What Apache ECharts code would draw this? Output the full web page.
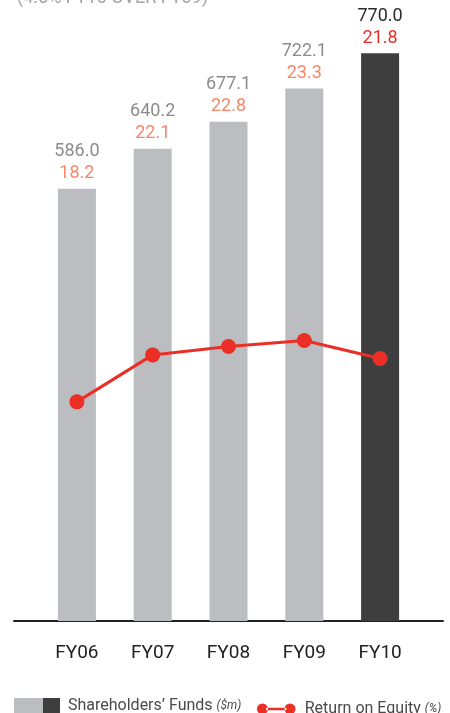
<!DOCTYPE html>
<html>
<head>
<meta charset="utf-8">
<script src="https://cdn.jsdelivr.net/npm/echarts@6/dist/echarts.min.js"></script>
<style>
  html, body { margin: 0; padding: 0; background: #fff; }
  #bar { width: 450px; height: 713px; }
</style>
</head>
<body>
<div id="bar"></div>
<script>
var years = ["FY06", "FY07", "FY08", "FY09", "FY10"];
var funds = [586.0, 640.2, 677.1, 722.1, 770.0];
var roe = [18.2, 22.1, 22.8, 23.3, 21.8];

var myChart = echarts.init(document.getElementById("bar"));

var barData = funds.map(function (v, i) {
  var last = i === funds.length - 1;
  return {
    value: v,
    itemStyle: { color: last ? "#3e3e3e" : "#bcbdc1" },
    label: {
      formatter: "{a|" + v.toFixed(1) + "}\n{b|" + roe[i].toFixed(1) + "}",
      rich: {
        a: { color: last ? "#2b2b2b" : "#8c8c8c", fontSize: 18, lineHeight: 22, fontFamily: "Roboto" },
        b: { color: last ? "#ec2f26" : "#f5886a", fontSize: 18, lineHeight: 22, fontFamily: "Roboto" },
      },
    },
  };
});

var option = {
  animation: false,
  title: {
    text: "(4.5% FY10 OVER FY09)",
    left: 12,
    top: -16,
    textStyle: { color: "#a3a3a3", fontSize: 18, fontWeight: "normal", fontFamily: "Roboto" },
  },
  grid: [
    { left: 39, right: 32, top: 31, bottom: 92 },
    { left: 14, right: 7, top: 31, bottom: 92 },
  ],
  xAxis: [
    {
      type: "category",
      gridIndex: 0,
      data: years,
      axisLine: { show: false },
      axisTick: { show: false },
      axisLabel: { color: "#222", fontSize: 19, margin: 23, fontFamily: "Roboto" },
    },
    {
      type: "value",
      gridIndex: 1,
      axisLine: { show: true, lineStyle: { color: "#222", width: 2 } },
      axisTick: { show: false },
      axisLabel: { show: false },
      splitLine: { show: false },
    },
  ],
  yAxis: [
    { type: "value", gridIndex: 0, min: 0, max: 800, show: false },
    { type: "value", gridIndex: 0, min: 0, max: 49, show: false },
    { type: "value", gridIndex: 1, show: false },
  ],
  legend: [
    {
      left: 14,
      top: 698,
      padding: 0,
      itemWidth: 46,
      itemHeight: 16,
      data: [{
        name: "Shareholders’ Funds",
        icon: "rect",
        itemStyle: {
          color: new echarts.graphic.LinearGradient(0, 0, 1, 0, [
            { offset: 0, color: "#bcbdc1" },
            { offset: 0.63, color: "#bcbdc1" },
            { offset: 0.63, color: "#3e3e3e" },
            { offset: 1, color: "#3e3e3e" },
          ]),
        },
      }],
      formatter: function (name) { return name + " {i|($m)}"; },
      textStyle: {
        color: "#4a4a4a", fontSize: 16, fontFamily: "Roboto", padding: [0, 0, 0, 3],
        rich: { i: { fontStyle: "italic", fontSize: 12, color: "#4a4a4a", fontFamily: "Roboto" } },
      },
    },
    {
      left: 257,
      top: 701,
      padding: 0,
      itemWidth: 41,
      itemHeight: 11,
      data: [{
        name: "Return on Equity",
        icon: "path://M0,6a6,6 0 1,0 12,0a6,6 0 1,0 -12,0zM30,6a6,6 0 1,0 12,0a6,6 0 1,0 -12,0zM10,4.6h22v2.8h-22z",
        itemStyle: { color: "#ec2f26" },
      }],
      formatter: function (name) { return name + " {i|(%)}"; },
      textStyle: {
        color: "#4a4a4a", fontSize: 16, fontFamily: "Roboto", padding: [0, 0, 0, 3],
        rich: { i: { fontStyle: "italic", fontSize: 12, color: "#4a4a4a", fontFamily: "Roboto" } },
      },
    },
  ],
  series: [
    {
      name: "Shareholders’ Funds",
      type: "bar",
      xAxisIndex: 0,
      yAxisIndex: 0,
      barWidth: 38,
      data: barData,
      label: { show: true, position: "top", distance: 4 },
    },
    {
      name: "Return on Equity",
      type: "line",
      xAxisIndex: 0,
      yAxisIndex: 1,
      data: roe,
      symbol: "circle",
      symbolSize: 15,
      color: "#ec2f26",
      lineStyle: { width: 3, color: "#ec2f26" },
      z: 5,
    },
  ],
};
myChart.setOption(option);
window.addEventListener("resize", function () {
  myChart.resize();
});
</script>
</body>
</html>
